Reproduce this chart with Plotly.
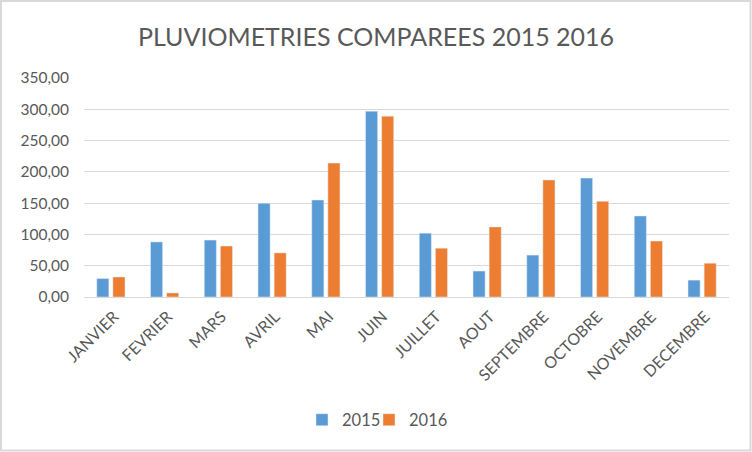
import plotly.graph_objects as go

months = ["JANVIER", "FEVRIER", "MARS", "AVRIL", "MAI", "JUIN", "JUILLET",
          "AOUT", "SEPTEMBRE", "OCTOBRE", "NOVEMBRE", "DECEMBRE"]
rain_2015 = [29.5, 88, 91, 150, 155, 297, 102, 41.5, 67, 190, 129.5, 27]
rain_2016 = [32, 6.5, 81.5, 70.5, 214, 289, 78, 112, 187, 153, 89.5, 54]
y_ticks = [0, 50, 100, 150, 200, 250, 300, 350]

W, H = 752, 452
L, R, T, B = 84, 23, 78, 155
PW, PH = W - L - R, H - T - B

font_family = "Lato, 'Open Sans', sans-serif"
gray = "#595959"

fig = go.Figure()
fig.add_trace(go.Bar(x=months, y=rain_2015, name="2015", marker_color="#5B9BD5"))
fig.add_trace(go.Bar(x=months, y=rain_2016, name="2016", marker_color="#ED7D31"))
# empty, invisible spacer legend entry so the last label is not clipped by entrywidth
fig.add_trace(go.Scatter(x=[None], y=[None], name="", mode="markers",
                         marker=dict(color="rgba(0,0,0,0)", size=1),
                         hoverinfo="skip"))

def px_x(px):
    return (px - L) / PW

def px_y(py):
    return (H - B - py) / PH

fig.update_layout(
    width=W, height=H,
    margin=dict(l=L, r=R, t=T, b=B, autoexpand=False),
    paper_bgcolor="white", plot_bgcolor="white",
    separators=", ",
    barmode="group", bargap=0.40, bargroupgap=0.25,
    title=dict(text="PLUVIOMETRIES COMPAREES 2015 2016", x=0.5, xref="container",
               y=1 - 37 / H, yref="container", xanchor="center", yanchor="middle",
               font=dict(family=font_family, size=25, color=gray)),
    font=dict(family=font_family, color=gray),
    showlegend=True,
    legend=dict(orientation="h", xref="container", x=302 / W, xanchor="left",
                yref="container", y=1 - 420 / H, yanchor="middle",
                entrywidth=22,
                font=dict(size=16.5, color=gray), traceorder="normal"),
    xaxis=dict(tickangle=-45, tickfont=dict(size=16, color=gray), showgrid=False,
               showline=True, linecolor="#D9D9D9", linewidth=1, ticks="",
               ticklabelshift=3, ticklabelstandoff=3, automargin=False),
    yaxis=dict(range=[0, 350], tickvals=y_ticks, tickformat=".2f",
               tickfont=dict(size=15.5, color=gray), showgrid=True,
               gridcolor="#D9D9D9", gridwidth=1, zeroline=False, showline=False,
               ticks="", ticklen=0, ticklabelstandoff=14, automargin=False),
    shapes=[dict(type="rect", xref="paper", yref="paper",
                 x0=px_x(1), x1=px_x(W - 1.5), y0=px_y(H - 1.5), y1=px_y(1),
                 line=dict(color="#D9D9D9", width=2), layer="below")],
)

fig.write_html("out.html", config={"displayModeBar": False},
               post_script="document.body.style.margin='0';")
